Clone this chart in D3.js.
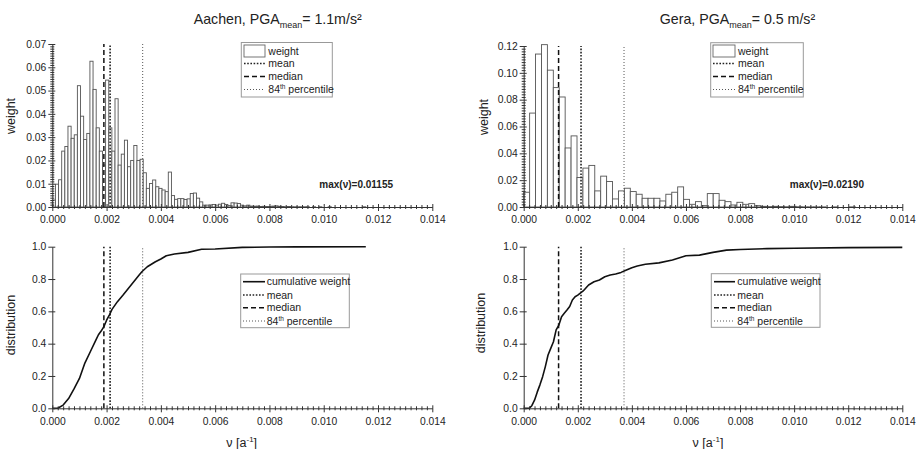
<!DOCTYPE html>
<html><head><meta charset="utf-8">
<script src="https://cdn.jsdelivr.net/npm/d3@7"></script>
<style>
body{margin:0;background:#fff;}
svg text{font-family:"Liberation Sans",Arial,sans-serif;fill:#222;}
</style></head><body>
<svg id="c" width="917" height="449"></svg>
<script>
// ---------------- data ----------------
const xTickValues = [0, 0.002, 0.004, 0.006, 0.008, 0.010, 0.012, 0.014];
const aachenWeightTicks = [0, 0.01, 0.02, 0.03, 0.04, 0.05, 0.06, 0.07];
const geraWeightTicks = [0, 0.02, 0.04, 0.06, 0.08, 0.10, 0.12];
const distTicks = [0, 0.2, 0.4, 0.6, 0.8, 1.0];

const aachenMaxNu = 0.01155;
const geraMaxNu = 0.02190;
const binCount = 100;

const aachenWeight = [
  0.003, 0.0098, 0.0117, 0.024, 0.026, 0.0347, 0.0295, 0.031, 0.0521, 0.039,
  0.029, 0.0316, 0.0626, 0.0505, 0.034, 0.024, 0.018, 0.0545, 0.034, 0.024,
  0.0465, 0.018, 0.0227, 0.0287, 0.0173, 0.020, 0.0264, 0.020, 0.0205, 0.0147,
  0.008, 0.0101, 0.0116, 0.0087, 0.008, 0.0073, 0.0066, 0.015, 0.0049, 0.0033,
  0.0036, 0.0036, 0.0032, 0.0035, 0.0058, 0.006, 0.0038, 0.0022, 0.0008, 0.0008,
  0.0009, 0.0011, 0.0008, 0.0012, 0.0016, 0.0011, 0.0006, 0.0018, 0.0017, 0.0015,
  0.0008, 0.0005, 0.0008, 0.0004, 0.0003, 0.0004, 0.0002, 0.0003, 0.0002, 0.0002,
  0.0004, 0.0005, 0.0003, 0.0002, 0.0001, 0.0002, 0.0001, 0.0001, 0.0001, 0.0001,
  0.0001, 0.0001, 0, 0.0001, 0, 0.0001, 0, 0, 0.0001, 0,
  0, 0, 0, 0, 0, 0, 0, 0, 0, 0.0001
];
const geraWeight = [
  0.011, 0.070, 0.114, 0.121, 0.102, 0.089, 0.082, 0.044, 0.053, 0.022,
  0.029, 0.031, 0.012, 0.023, 0.019, 0.006, 0.012, 0.014, 0.0115, 0.0095,
  0.0065, 0.0065, 0.0065, 0.0045, 0.0095, 0.011, 0.015, 0.0057, 0.002, 0.004,
  0.001, 0.010, 0.010, 0.005, 0.004, 0.0015, 0.0035, 0.002, 0.0025, 0.001,
  0.0005, 0.0003, 0.0005, 0.0003, 0.0002, 0.0005, 0.0002, 0.0001, 0.0001, 0.0001,
  0.0001, 0, 0.0001, 0, 0, 0.0001, 0, 0, 0, 0, 0, 0, 0, 0
];

const aachenCumNu = [0, 0.0002, 0.0004, 0.0006, 0.0008, 0.001, 0.0012, 0.0014, 0.0016, 0.0017, 0.0018, 0.0019, 0.002, 0.0021, 0.0022, 0.0024, 0.0026, 0.0028, 0.003, 0.0032, 0.0033, 0.0035, 0.0038, 0.004, 0.0042, 0.0045, 0.005, 0.0055, 0.006, 0.007, 0.008, 0.009, 0.01155];
const aachenCum   = [0, 0.0, 0.02, 0.06, 0.12, 0.185, 0.28, 0.35, 0.42, 0.455, 0.478, 0.505, 0.545, 0.577, 0.612, 0.66, 0.70, 0.742, 0.783, 0.825, 0.845, 0.876, 0.907, 0.924, 0.944, 0.955, 0.965, 0.984, 0.986, 0.996, 0.998, 0.999, 1.0];
const geraCumNu = [0, 0.0002, 0.0003, 0.0004, 0.0005, 0.0006, 0.0007, 0.0008, 0.0009, 0.001, 0.0011, 0.0012, 0.0013, 0.0014, 0.0015, 0.0016, 0.0017, 0.0018, 0.0019, 0.002, 0.0022, 0.0024, 0.0026, 0.0028, 0.003, 0.0032, 0.0034, 0.0036, 0.0038, 0.004, 0.0042, 0.0045, 0.005, 0.0055, 0.006, 0.0065, 0.007, 0.0075, 0.008, 0.009, 0.010, 0.012, 0.014];
const geraCum   = [0, 0, 0.016, 0.05, 0.10, 0.145, 0.196, 0.258, 0.33, 0.371, 0.412, 0.485, 0.515, 0.567, 0.588, 0.608, 0.63, 0.67, 0.69, 0.70, 0.726, 0.763, 0.783, 0.794, 0.814, 0.825, 0.831, 0.841, 0.856, 0.87, 0.88, 0.891, 0.90, 0.918, 0.944, 0.948, 0.965, 0.979, 0.983, 0.988, 0.99, 0.994, 0.996];

// mean, median, 84th percentile
const aachenStats = [0.00213, 0.00190, 0.00333];
const geraStats   = [0.00212, 0.00129, 0.00371];
const statNames = ["mean", "median", "84th percentile"];

// ---------------- drawing ----------------
const svg = d3.select("#c");
const AX = "#333";
const statStyles = [
  {dash: "1.6,1.6", width: 1.6, color: "#222"},  // mean
  {dash: "5,3", width: 1.5, color: "#111"},      // median
  {dash: "1,2", width: 1, color: "#555"}         // 84th
];

function range(a, b, s) { const r = []; for (let v = a; v <= b + 1e-12; v += s) r.push(+v.toFixed(8)); return r; }

function drawAxes(g, x, y, yTicks, yMinorStep, yFmt) {
  const [ylo, yhi] = y.domain();
  const xMinor = range(0, 0.014, 0.0002).filter(v => !xTickValues.some(t => Math.abs(t - v) < 1e-9));
  const yb = y.range()[0];
  const gxm = g.append("g").attr("transform", `translate(0,${yb})`)
    .call(d3.axisBottom(x).tickValues(xMinor).tickSize(2).tickFormat(""));
  gxm.select(".domain").remove();
  gxm.selectAll("line").attr("y1", -2).attr("stroke", AX);
  const gx = g.append("g").attr("transform", `translate(0,${yb})`)
    .call(d3.axisBottom(x).tickValues(xTickValues).tickSize(4).tickSizeOuter(0).tickPadding(5).tickFormat(d3.format(".3f")));
  gx.selectAll("line").attr("y1", -3).attr("stroke", AX);
  gx.select(".domain").attr("stroke", AX);
  gx.selectAll("text").attr("font-size", 10.3).attr("fill", "#222").style("font-family", "Liberation Sans, Arial, sans-serif");

  const yMinor = range(ylo, yhi, yMinorStep).filter(v => !yTicks.some(t => Math.abs(t - v) < 1e-9));
  const xl = x.range()[0];
  if (yMinor.length) {
    const gym = g.append("g").attr("transform", `translate(${xl},0)`)
      .call(d3.axisLeft(y).tickValues(yMinor).tickSize(2).tickFormat(""));
    gym.select(".domain").remove();
    gym.selectAll("line").attr("x1", 2).attr("stroke", AX);
  }
  const gy = g.append("g").attr("transform", `translate(${xl},0)`)
    .call(d3.axisLeft(y).tickValues(yTicks).tickSize(4).tickSizeOuter(0).tickPadding(2).tickFormat(d3.format(yFmt)));
  gy.selectAll("line").attr("x1", 3).attr("stroke", AX);
  gy.select(".domain").attr("stroke", AX);
  gy.selectAll("text").attr("font-size", 10.3).attr("fill", "#222").style("font-family", "Liberation Sans, Arial, sans-serif");
}

function drawStats(g, x, y, stats) {
  stats.forEach((v, i) => {
    const st = statStyles[i];
    g.append("line")
      .attr("x1", x(v)).attr("x2", x(v))
      .attr("y1", y.range()[0]).attr("y2", y.range()[1])
      .attr("stroke", st.color).attr("stroke-width", st.width)
      .attr("stroke-dasharray", st.dash);
  });
}

function drawLegend(g, box, lineX0, lineX1, textX, rows, firstKind) {
  g.append("rect").attr("x", box[0]).attr("y", box[1]).attr("width", box[2]).attr("height", box[3])
    .attr("fill", "#fff").attr("stroke", "#999").attr("stroke-width", 1);
  const labels = [firstKind === "bar" ? "weight" : "cumulative weight"].concat(statNames);
  labels.forEach((lab, i) => {
    const ry = rows[i];
    if (i === 0) {
      if (firstKind === "bar") {
        g.append("rect").attr("x", lineX0).attr("y", ry - 6).attr("width", lineX1 - lineX0).attr("height", 12)
          .attr("fill", "#fff").attr("stroke", "#666").attr("stroke-width", 0.9);
      } else {
        g.append("line").attr("x1", lineX0).attr("x2", lineX1).attr("y1", ry).attr("y2", ry)
          .attr("stroke", "#111").attr("stroke-width", 1.6);
      }
    } else {
      const st = statStyles[i - 1];
      g.append("line").attr("x1", lineX0).attr("x2", lineX1).attr("y1", ry).attr("y2", ry)
        .attr("stroke", st.color).attr("stroke-width", st.width).attr("stroke-dasharray", st.dash);
    }
    const t = g.append("text").attr("x", textX).attr("y", ry + 3.6).attr("font-size", 10.5);
    if (lab === "84th percentile") {
      t.append("tspan").text("84");
      t.append("tspan").attr("font-size", 6.5).attr("dy", -4).text("th");
      t.append("tspan").attr("dy", 4).text(" percentile");
    } else t.text(lab);
  });
}

function histPanel(cfg) {
  const g = svg.append("g");
  const x = d3.scaleLinear().domain([0, 0.014]).range([cfg.x0, cfg.x1]);
  const y = d3.scaleLinear().domain([0, cfg.ymax]).range([207, cfg.ytop]);
  const w = cfg.maxNu / binCount;
  const bars = cfg.data.map((v, i) => ({x0: i * w, x1: (i + 1) * w, v})).filter(d => d.v > 0 && d.x1 <= 0.014 + 1e-9);
  g.selectAll("rect.bar").data(bars).join("rect").attr("class", "bar")
    .attr("x", d => x(d.x0)).attr("width", d => x(d.x1) - x(d.x0))
    .attr("y", d => y(d.v)).attr("height", d => y(0) - y(d.v))
    .attr("fill", "#fff").attr("stroke", "#555").attr("stroke-width", 0.9);
  drawStats(g, x, y, cfg.stats);
  drawAxes(g, x, y, cfg.yTicks, cfg.yMinor, ".2f");
  drawLegend(g, cfg.legBox, cfg.legL0, cfg.legL1, cfg.legT, [51, 63.5, 76.5, 89.5], "bar");
  g.append("text").attr("x", cfg.maxX).attr("y", 188).attr("text-anchor", "end")
    .attr("font-size", 10).attr("font-weight", "bold").attr("fill", "#111")
    .text("max(\u03bd)=" + cfg.maxNu.toFixed(5));
  g.append("text").attr("transform", `translate(${cfg.ylabX},${cfg.ylabY}) rotate(-90)`)
    .attr("text-anchor", "middle").attr("font-size", 12.5).text("weight");
  const tt = g.append("text").attr("x", cfg.titleX).attr("y", 24).attr("text-anchor", "middle").attr("font-size", 14.2);
  tt.append("tspan").text(cfg.title[0]);
  tt.append("tspan").attr("font-size", 9).attr("dy", 4).text("mean");
  tt.append("tspan").attr("dy", -4).text(cfg.title[1]);
}

function cumPanel(cfg) {
  const g = svg.append("g");
  const x = d3.scaleLinear().domain([0, 0.014]).range([cfg.x0, cfg.x1]);
  const y = d3.scaleLinear().domain([0, 1]).range([408.3, 246.7]);
  drawStats(g, x, y, cfg.stats);
  const line = d3.line().x(d => x(d[0])).y(d => y(d[1]));
  g.append("path").datum(d3.zip(cfg.nu, cfg.cum)).attr("d", line)
    .attr("fill", "none").attr("stroke", "#111").attr("stroke-width", 1.6).attr("stroke-linejoin", "round");
  drawAxes(g, x, y, distTicks, 0.2, ".1f");
  drawLegend(g, cfg.legBox, cfg.legL0, cfg.legL1, cfg.legT, [281.7, 295, 307.7, 321], "line");
  g.append("text").attr("transform", `translate(${cfg.ylabX},${cfg.ylabY}) rotate(-90)`)
    .attr("text-anchor", "middle").attr("font-size", 12.5).text("distribution");
  const xl = g.append("text").attr("x", cfg.xlabX).attr("y", 447).attr("text-anchor", "middle").attr("font-size", 12.5);
  xl.append("tspan").text("\u03bd [a");
  xl.append("tspan").attr("font-size", 8).attr("dy", -5).text("-1");
  xl.append("tspan").attr("dy", 5).text("]");
}

histPanel({x0: 52.3, x1: 432.3, ymax: 0.07, ytop: 44, data: aachenWeight, maxNu: aachenMaxNu,
  stats: aachenStats, yTicks: aachenWeightTicks, yMinor: 0.001,
  legBox: [241.3, 42.5, 91, 54.5], legL0: 244, legL1: 265, legT: 268.3,
  maxX: 393, ylabX: 15, ylabY: 116, titleX: 277.7, title: ["Aachen, PGA", "= 1.1m/s\u00b2"]});
histPanel({x0: 523.7, x1: 902.3, ymax: 0.12, ytop: 46, data: geraWeight, maxNu: geraMaxNu,
  stats: geraStats, yTicks: geraWeightTicks, yMinor: 0.002,
  legBox: [710.7, 42.7, 92.6, 54.3], legL0: 713, legL1: 735, legT: 738,
  maxX: 864, ylabX: 488, ylabY: 117, titleX: 737.5, title: ["Gera, PGA", "= 0.5 m/s\u00b2"]});
cumPanel({x0: 52.3, x1: 432.3, nu: aachenCumNu, cum: aachenCum, stats: aachenStats,
  legBox: [240.7, 274, 108.6, 53.7], legL0: 243, legL1: 265, legT: 266.7,
  ylabX: 15, ylabY: 325, xlabX: 241.7});
cumPanel({x0: 523.7, x1: 902.3, nu: geraCumNu, cum: geraCum, stats: geraStats,
  legBox: [711.3, 273.7, 108.7, 53.6], legL0: 714, legL1: 735, legT: 737.3,
  ylabX: 485, ylabY: 323, xlabX: 708});
</script>
</body></html>
